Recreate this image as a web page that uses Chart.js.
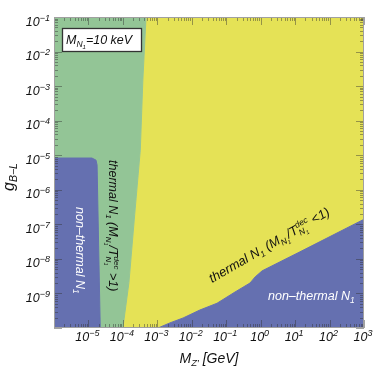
<!DOCTYPE html>
<html>
<head>
<meta charset="utf-8">
<script src="https://cdn.jsdelivr.net/npm/chart.js@4.4.0/dist/chart.umd.min.js"></script>
<style>
html, body { margin: 0; padding: 0; background: #fff; }
</style>
</head>
<body>
<canvas id="myChart" width="374" height="368"></canvas>
<script>
// axis ranges (log10 decades)
var xMin = 1e-6, xMax = 1e3;
var yMin = 1e-10, yMax = 1e-1;

// exponents that get a tick label
var xTickExps = [-5, -4, -3, -2, -1, 0, 1, 2, 3];
var yTickExps = [-9, -8, -7, -6, -5, -4, -3, -2, -1];

// boundary between the two thermal regions, top to bottom
var thermalEdgeX = [4.7e-4, 3.8e-4, 3.2e-4, 2.2e-4, 1.5e-4, 1.0e-4];
var thermalEdgeY = [1e-1, 1.5e-3, 1.4e-5, 1.9e-7, 2.1e-9, 1e-10];

// non-thermal region at light Z' : left edge, rounded corner, right side
var lightEdgeX = [1e-6, 1.26e-5, 1.66e-5, 1.78e-5, 2.2e-5];
var lightEdgeY = [8.3e-6, 8.3e-6, 7.2e-6, 5.2e-6, 1e-10];

// non-thermal region at heavy Z' : from the bottom edge up to the right edge
var heavyEdgeX = [1.05e-3, 2.3e-3, 5.6e-3, 1.7e-2, 5.4e-2, 0.18, 0.49, 0.69, 1.1, 13.8, 1000];
var heavyEdgeY = [1e-10, 1.4e-10, 1.95e-10, 3.3e-10, 5.2e-10, 1.1e-9, 2.0e-9, 3.0e-9, 4.5e-9, 1.6e-8, 1.4e-7];

var FONT = '"Liberation Sans", Arial, sans-serif';

function pts(xs, ys) {
    return xs.map(function (x, i) { return {x: x, y: ys[i]}; });
}

var yellowPts = pts(thermalEdgeX, thermalEdgeY)
    .concat(pts(heavyEdgeX, heavyEdgeY))
    .concat([{x: xMax, y: yMax}]);
var greenPts = [{x: xMin, y: yMax}]
    .concat(pts(thermalEdgeX, thermalEdgeY))
    .concat([{x: xMin, y: yMin}]);
var blueLeftPts = pts(lightEdgeX, lightEdgeY).concat([{x: xMin, y: yMin}]);
var blueRightPts = pts(heavyEdgeX, heavyEdgeY).concat([{x: xMax, y: yMin}]);

function region(label, data, color, order) {
    return {
        label: label,
        data: data,
        showLine: true,
        fill: 'shape',
        backgroundColor: color,
        borderColor: color,
        borderWidth: 1,
        pointRadius: 0,
        tension: 0,
        order: order
    };
}

// text runs with sub/superscripts
function drawRun(ctx, parts, x, y) {
    var mark = x;
    parts.forEach(function (p) {
        if (p.reset) x = mark;
        if (p.mark) mark = x;
        ctx.font = 'italic ' + p.s + 'px ' + FONT;
        ctx.fillText(p.t, x, y + (p.dy || 0));
        x += ctx.measureText(p.t).width;
    });
    return x;
}
function runWidth(ctx, parts) {
    var w = 0, mark = 0;
    parts.forEach(function (p) {
        if (p.reset) w = mark;
        if (p.mark) mark = w;
        ctx.font = 'italic ' + p.s + 'px ' + FONT;
        w += ctx.measureText(p.t).width;
    });
    return w;
}
function powParts(e) {
    var s = e < 0 ? '\u2212' + (-e) : String(e);
    return [{t: '10', s: 12.5}, {t: s, s: 9, dy: -5}];
}

var decor = {
    id: 'decor',
    afterDraw: function (chart) {
        var ctx = chart.ctx, a = chart.chartArea;
        var xs = chart.scales.x, ys = chart.scales.y;
        ctx.save();

        // tick marks inside on all four sides
        ctx.strokeStyle = 'rgba(50,50,50,0.45)';
        ctx.lineWidth = 1;
        ctx.beginPath();
        var e, m, v, p, len;
        for (e = -6; e <= 3; e++) {
            for (m = 1; m <= 9; m++) {
                v = m * Math.pow(10, e);
                if (v > xMax * 1.001) continue;
                p = Math.round(xs.getPixelForValue(v)) + 0.5;
                len = m === 1 ? 8 : 4;
                ctx.moveTo(p, a.bottom); ctx.lineTo(p, a.bottom - len);
                ctx.moveTo(p, a.top); ctx.lineTo(p, a.top + len);
            }
        }
        for (e = -10; e <= -1; e++) {
            for (m = 1; m <= 9; m++) {
                v = m * Math.pow(10, e);
                if (v > yMax * 1.001) continue;
                p = Math.round(ys.getPixelForValue(v)) + 0.5;
                len = m === 1 ? 8 : 4;
                ctx.moveTo(a.left, p); ctx.lineTo(a.left + len, p);
                ctx.moveTo(a.right, p); ctx.lineTo(a.right - len, p);
            }
        }
        ctx.stroke();

        // frame
        ctx.strokeStyle = '#a0a0a0';
        ctx.strokeRect(a.left + 0.5, a.top + 0.5, a.width - 1, a.height - 1);

        // tick labels
        ctx.fillStyle = '#111';
        ctx.textAlign = 'left';
        ctx.textBaseline = 'alphabetic';
        xTickExps.forEach(function (e) {
            var parts = powParts(e);
            var px = xs.getPixelForValue(Math.pow(10, e));
            drawRun(ctx, parts, px - runWidth(ctx, parts) / 2 - 1, 341);
        });
        yTickExps.forEach(function (e) {
            var parts = powParts(e);
            var py = ys.getPixelForValue(Math.pow(10, e));
            drawRun(ctx, parts, a.left - 4 - runWidth(ctx, parts), py + 8.5);
        });

        // axis titles
        var xt = [{t: 'M', s: 14}, {t: 'Z\u2032', s: 9.5, dy: 3}, {t: ' [GeV]', s: 14}];
        drawRun(ctx, xt, (a.left + a.right) / 2 - runWidth(ctx, xt) / 2, 363);
        var yt = [{t: 'g', s: 16}, {t: 'B\u2212L', s: 10.5, dy: 3}];
        ctx.save();
        ctx.translate(14, 177 + runWidth(ctx, yt) / 2);
        ctx.rotate(-Math.PI / 2);
        drawRun(ctx, yt, 0, 0);
        ctx.restore();

        // mass box
        ctx.fillStyle = '#fff';
        ctx.fillRect(62, 28, 80, 24);
        ctx.strokeStyle = '#333';
        ctx.lineWidth = 1.3;
        ctx.strokeRect(62.5, 28.5, 79, 23);
        ctx.fillStyle = '#111';
        drawRun(ctx, [{t: 'M', s: 12.5}, {t: 'N', s: 8.5, dy: 3}, {t: '1', s: 6, dy: 5},
            {t: '=10 keV', s: 12.5}], 66, 44);

        // region labels
        function ratio(sign, s, sub) {
            return [{t: 'thermal N', s: s}, {t: '1', s: sub, dy: 3}, {t: ' (M', s: s},
                {t: 'N', s: sub, dy: 3}, {t: '1', s: 5.5, dy: 5}, {t: '/T', s: s},
                {t: 'N', s: sub, dy: 3.5, mark: true}, {t: '1', s: 5.5, dy: 5.5},
                {t: 'dec', s: sub, dy: -5, reset: true}, {t: ' ' + sign + '1)', s: s}];
        }
        ctx.save();
        ctx.translate(109, 160);
        ctx.rotate(Math.PI / 2);
        drawRun(ctx, ratio('>', 12.5, 8), 0, 0);
        ctx.restore();

        ctx.save();
        ctx.translate(212, 283);
        ctx.rotate(-30 * Math.PI / 180);
        drawRun(ctx, ratio('<', 13, 8.5), 0, 0);
        ctx.restore();

        ctx.fillStyle = '#fff';
        ctx.save();
        ctx.translate(76, 207);
        ctx.rotate(Math.PI / 2);
        drawRun(ctx, [{t: 'non\u2013thermal N', s: 12.5}, {t: '1', s: 8.5, dy: 3}], 0, 0);
        ctx.restore();
        drawRun(ctx, [{t: 'non\u2013thermal N', s: 12.5}, {t: '1', s: 8.5, dy: 3}], 268, 300);

        ctx.restore();
    }
};

var ctx = document.getElementById('myChart').getContext('2d');
var chart = new Chart(ctx, {
    type: 'scatter',
    data: {
        datasets: [
            region('non-thermal heavy', blueRightPts, '#6570b0', 0),
            region('non-thermal light', blueLeftPts, '#6570b0', 1),
            region('thermal >1', greenPts, '#93c596', 2),
            region('thermal <1', yellowPts, '#e5e256', 3)
        ]
    },
    options: {
        responsive: false,
        animation: false,
        events: [],
        layout: {padding: {top: 17, right: 10, left: 0, bottom: 0}},
        plugins: {legend: {display: false}, tooltip: {enabled: false}},
        scales: {
            x: {
                type: 'logarithmic', min: xMin, max: xMax,
                ticks: {display: false}, grid: {display: false}, border: {display: false},
                afterFit: function (s) { s.height = 40; }
            },
            y: {
                type: 'logarithmic', min: yMin, max: yMax,
                ticks: {display: false}, grid: {display: false}, border: {display: false},
                afterFit: function (s) { s.width = 54; }
            }
        }
    },
    plugins: [decor]
});
</script>
</body>
</html>
